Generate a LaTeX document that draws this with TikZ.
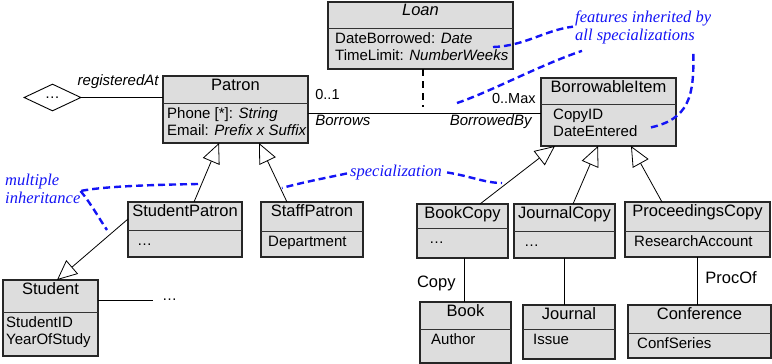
\documentclass[tikz,border=0pt]{standalone}
\usepackage{fontspec}
\setmainfont{Liberation Sans}
\newfontfamily\notefont{Liberation Serif}
\usepackage{tikz}
\usetikzlibrary{arrows.meta,shapes.geometric}

\definecolor{boxgray}{RGB}{221,221,221}
\definecolor{noteblue}{RGB}{20,20,245}

% class box: name, left, top, right, bottom, divider, title, attribute indent, attributes
\newcommand{\classbox}[9]{%
  \node[classrect, minimum width={#4-#2}, minimum height={#5-#3}] (#1) at (#2,#3) {};
  \draw[divider] (#2,#6) -- (#4,#6);
  \node[classtitle] (#1-title) at ({(#2+#4)/2},{#3+14}) {#7};
  \node[classattr] (#1-attr) at ({#2+#8},{#6+3.1}) {\strut #9};
}

\begin{document}
\begin{tikzpicture}[x=1pt, y=-1pt,
  classrect/.style={draw=black!85, line width=1.1pt, fill=boxgray, anchor=north west, inner sep=0pt, outer sep=0pt},
  divider/.style={draw=black!80, line width=0.9pt},
  classtitle/.style={anchor=base, inner sep=0pt, font=\fontsize{16.5}{18}\selectfont},
  classattr/.style={anchor=north west, align=left, inner sep=0pt, font=\fontsize{15}{17}\selectfont},
  link/.style={draw=black, line width=0.8pt},
  gen/.style={link, -{Triangle[open, length=20pt, width=18pt]}},
  loanlink/.style={draw=black, line width=2.5pt, dash pattern=on 7pt off 5pt},
  rolelabel/.style={inner sep=0pt, font=\fontsize{15}{17}\selectfont\itshape},
  multlabel/.style={inner sep=0pt, font=\fontsize{14.5}{17}\selectfont},
  linklabel/.style={inner sep=0pt, font=\fontsize{16.5}{18}\selectfont},
  dots/.style={inner sep=0pt, font=\fontsize{15}{17}\selectfont},
  note/.style={text=noteblue, anchor=north west, align=left, inner sep=0pt, font=\fontsize{16.5}{18.5}\selectfont\notefont\itshape},
  notelink/.style={draw=noteblue, line width=2.4pt, dash pattern=on 7pt off 4pt}]

\useasboundingbox (0,0) rectangle (772,364);

% Draw the class boxes
\classbox{loan}{328}{2}{513}{69}{28}{\textit{Loan}}{7}{DateBorrowed: \textit{Date}\\TimeLimit: \textit{NumberWeeks}}
\classbox{patron}{163}{76}{308}{143}{103}{Patron}{4}{Phone [*]: \textit{String}\\Email: \textit{Prefix x Suffix}}
\classbox{bitem}{541}{78}{676}{146}{104}{BorrowableItem}{12}{CopyID\\DateEntered}
\classbox{spatron}{128}{202}{242}{257}{230}{StudentPatron}{9}{…}
\classbox{stpatron}{261}{202}{363}{257}{231}{StaffPatron}{7}{Department}
\classbox{student}{3}{280}{98}{356}{312}{Student}{3}{StudentID\\YearOfStudy}
\classbox{bookcopy}{417}{204}{508}{258}{228}{BookCopy}{12}{…}
\classbox{jcopy}{514}{204}{615}{258}{231}{JournalCopy}{10}{…}
\classbox{pcopy}{625}{202}{770}{257}{231}{ProceedingsCopy}{9}{ResearchAccount}
\classbox{book}{420}{302}{511}{363}{329}{Book}{11}{Author}
\classbox{journal}{523}{305}{615}{359}{329}{Journal}{10}{Issue}
\classbox{conf}{628}{305}{771}{358}{333}{Conference}{9}{ConfSeries}

% The diamond and the loose ends
\node[diamond, draw=black, line width=0.9pt, fill=white, aspect=2.1, inner sep=0pt,
  minimum width=57pt, minimum height=27pt, font=\fontsize{15}{17}\selectfont] (assocdia) at (52.5,97.5) {…};
\node[dots, anchor=west] (studentmore) at (162,300) {…};
\coordinate (loanend) at (423,107);

% Associations
\draw[link] (assocdia.east) -- (assocdia.east -| patron.west)
  node[rolelabel, pos=.45, anchor=base, yshift=12pt] {registeredAt};
\draw[link] ([yshift=-3.5pt]patron.east) -- ([yshift=-3.5pt]patron.east -| bitem.west)
  node[multlabel, at start, anchor=base west, xshift=7pt, yshift=14pt] {0..1}
  node[rolelabel, at start, anchor=base west, xshift=7pt, yshift=-12pt] {Borrows}
  node[multlabel, at end, anchor=base east, xshift=-5pt, yshift=10pt] {0..Max}
  node[rolelabel, at end, anchor=base east, xshift=-9pt, yshift=-12pt] {BorrowedBy};
\draw[loanlink] ([xshift=2.5pt]loan.south) -- (loanend);
\draw[link] ([yshift=18pt]student.east) -- ([xshift=-9pt]studentmore.west);
\draw[link] ([xshift=1.5pt]bookcopy.south) -- ([xshift=-1.5pt]book.north)
  node[linklabel, midway, anchor=base east, xshift=-8pt, yshift=-7pt] {Copy};
\draw[link] ([xshift=-0.5pt]jcopy.south) -- ([xshift=-0.5pt]jcopy.south |- journal.north);
\draw[link] ([xshift=-0.5pt]pcopy.south) -- ([xshift=-0.5pt]pcopy.south |- conf.north)
  node[linklabel, midway, anchor=base west, xshift=8pt, yshift=-2pt] {ProcOf};

% Generalizations
\draw[gen] ([xshift=9pt]spatron.north) -- ([xshift=-16.5pt]patron.south);
\draw[gen] ([xshift=-25pt]stpatron.north) -- ([xshift=23.5pt]patron.south);
\draw[gen] ([yshift=10.5pt]spatron.west) -- ([xshift=6.5pt]student.north);
\draw[gen] ([xshift=17.5pt]bookcopy.north) -- ([xshift=-53.5pt]bitem.south);
\draw[gen] ([xshift=8.5pt]jcopy.north) -- ([xshift=-10.5pt]bitem.south);
\draw[gen] ([xshift=-35.5pt]pcopy.north) -- ([xshift=22.5pt]bitem.south);

% The notes
\node[note] (inherited) at (575,9) {\strut features inherited by\\all specializations};
\node[note] (specnote) at (350,163) {\strut specialization};
\node[note] (multinote) at (5,172) {\strut multiple\\inheritance};

\coordinate (loanattr) at ([xshift=-20pt, yshift=-11.5pt]loan.east);
\coordinate (assocmid) at (457,103);
\coordinate (bitemattr) at ([xshift=-28pt, yshift=18pt]bitem.south east);
\coordinate (stgen) at (282,188);
\coordinate (bcgen) at (502,183);
\coordinate (spgen) at (198,184);
\coordinate (studentgen) at (107,230);

\draw[notelink] (loanattr) .. controls (525,46) and (545,30) .. ([xshift=-2pt]inherited.west);
\draw[notelink] (assocmid) .. controls (490,92) and (540,65) .. ([xshift=7pt, yshift=-6.5pt]inherited.south west);
\draw[notelink] ([xshift=-18pt, yshift=-9.5pt]inherited.south east) .. controls (694,95) and (690,120) .. (bitemattr);
\draw[notelink] ([xshift=-3pt, yshift=-1pt]specnote.west) .. controls (325,178) and (300,183) .. (stgen);
\draw[notelink] ([xshift=5pt]specnote.east) .. controls (470,176) and (485,183) .. (bcgen);
\draw[notelink] (spgen) .. controls (140,185) and (100,187) .. ([yshift=-3pt]multinote.east);
\draw[notelink] ([yshift=-3pt]multinote.east) .. controls (92,205) and (100,220) .. (studentgen);

\end{tikzpicture}
\end{document}
